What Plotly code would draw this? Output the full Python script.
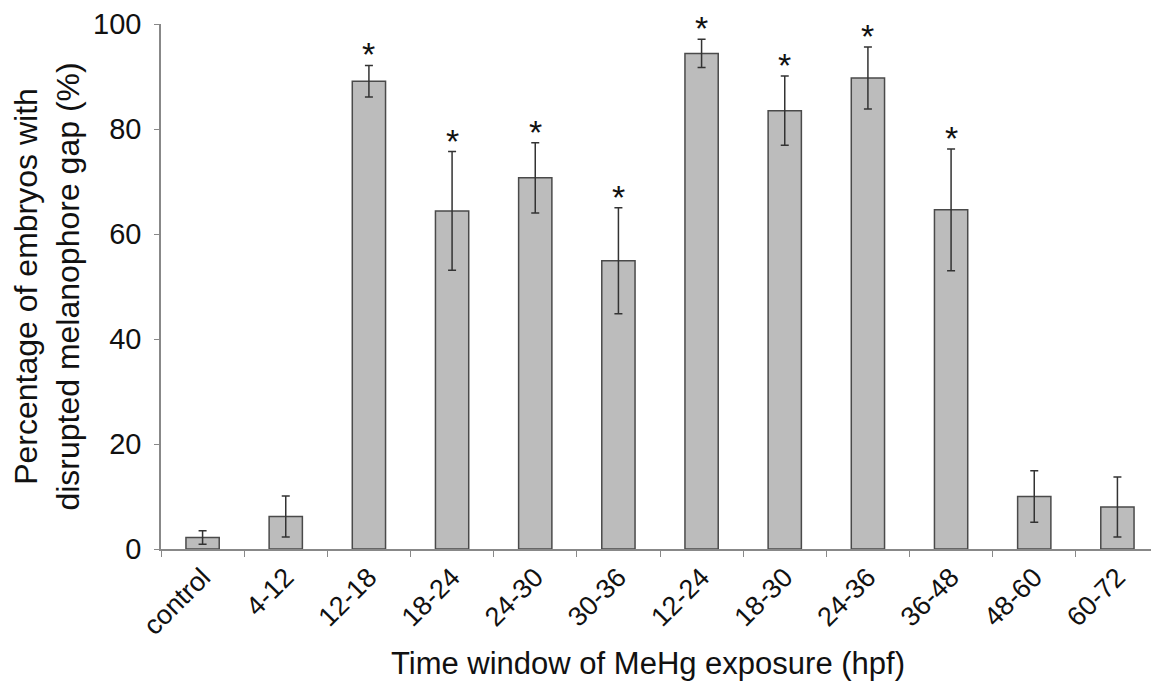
import plotly.graph_objects as go

categories = ["control", "4-12", "12-18", "18-24", "24-30", "30-36",
              "12-24", "18-30", "24-36", "36-48", "48-60", "60-72"]
values = [2.2, 6.2, 89.1, 64.4, 70.7, 54.9, 94.4, 83.5, 89.7, 64.6, 10.0, 8.0]
errors = [1.3, 3.9, 3.0, 11.3, 6.7, 10.1, 2.7, 6.6, 5.9, 11.6, 4.9, 5.7]
significant = [False, False, True, True, True, True, True, True, True, True, False, False]

FONT = "Liberation Sans, Arial, sans-serif"

fig = go.Figure()
fig.add_trace(go.Bar(
    x=categories, y=values, width=0.4,
    marker=dict(color="#bcbcbc", line=dict(color="#4a4a4a", width=1.5)),
    error_y=dict(type="data", array=errors, visible=True,
                 color="#333333", thickness=1.5, width=4),
    showlegend=False,
))

for c, v, e, s in zip(categories, values, errors, significant):
    if s:
        fig.add_annotation(x=c, y=v + e, text="*", showarrow=False,
                           yanchor="bottom", yshift=-10,
                           font=dict(family=FONT, size=34, color="#111111"))

# x-axis title (placed as annotation to match the reference's off-centre position)
fig.add_annotation(x=0.488, xref="paper", y=0, yref="paper", yshift=-114,
                   text="Time window of MeHg exposure (hpf)", showarrow=False,
                   xanchor="center", yanchor="middle",
                   font=dict(family=FONT, size=31, color="#111111"))

fig.update_layout(
    width=1151, height=674,
    margin=dict(l=153, r=0, t=14, b=133),
    paper_bgcolor="white", plot_bgcolor="white",
    font=dict(family=FONT, color="#111111"),
    bargap=0.6,
)
fig.update_xaxes(
    showline=True, linecolor="#888888", linewidth=1.5,
    ticks="outside", tickson="boundaries", ticklen=6, tickcolor="#888888",
    tickangle=-45, tickfont=dict(size=27, family=FONT, color="#111111"),
    showgrid=False, range=[-0.5, 11.5],
)
fig.update_yaxes(
    range=[0, 100], tickvals=[0, 20, 40, 60, 80, 100],
    showline=True, linecolor="#888888", linewidth=1.5,
    ticks="outside", ticklen=5, tickcolor="#888888",
    tickfont=dict(size=29, family=FONT, color="#111111"),
    ticklabeloverflow="allow", ticklabelstandoff=7,
    title=dict(text="Percentage of embryos with<br>disrupted melanophore gap (%)",
               font=dict(size=32, family=FONT, color="#111111"), standoff=6),
    showgrid=False, zeroline=False,
)

fig.write_html("out.html")
